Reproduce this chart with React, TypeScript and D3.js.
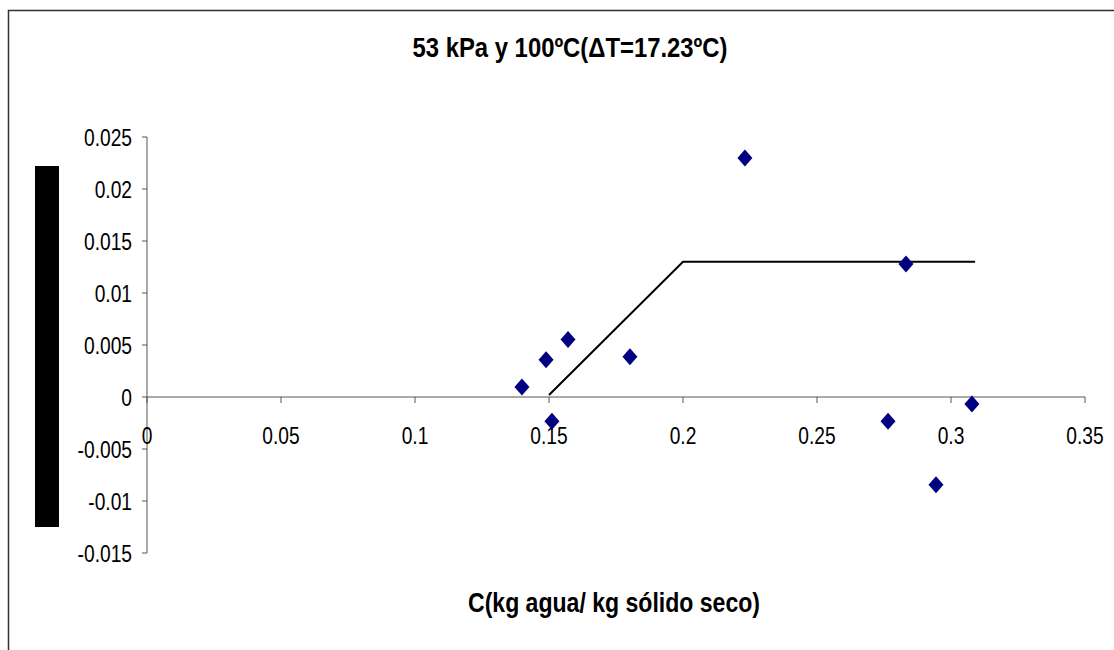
import React from "react";
import * as d3 from "d3";

const pointsX = [0.1399, 0.1489, 0.1511, 0.1571, 0.1802, 0.2231, 0.2832, 0.2765, 0.2944, 0.3078];
const pointsY = [0.00097, 0.00358, -0.00233, 0.00552, 0.00388, 0.02297, 0.01279, -0.00233, -0.00843, -0.00068];
const fitX = [0.15, 0.2, 0.309];
const fitY = [0.0002, 0.013, 0.013];
const xTicks = [0, 0.05, 0.1, 0.15, 0.2, 0.25, 0.3, 0.35];
const yTicks = [0.025, 0.02, 0.015, 0.01, 0.005, 0, -0.005, -0.01, -0.015];
const title = "53 kPa y 100ºC(ΔT=17.23ºC)";
const xTitle = "C(kg agua/ kg sólido seco)";

export default function App() {
  const x = d3.scaleLinear().domain([0, 0.35]).range([147, 1085]);
  const y = d3.scaleLinear().domain([-0.015, 0.025]).range([553, 137]);
  const line = d3
    .line<number>()
    .x((_, i) => x(fitX[i]))
    .y((d) => y(d));
  const font = "'Liberation Sans', Arial, sans-serif";
  const diamond = "M0,-8.5L7.5,0L0,8.5L-7.5,0Z";
  const sx = 0.8;
  return (
    <svg
      width={1114}
      height={650}
      style={{ position: "absolute", left: 0, top: 0, background: "#fff" }}
    >
      <rect x={8.5} y={10.5} width={1130} height={660} fill="#fff" stroke="#333" strokeWidth={1.5} />
      <text
        x={570}
        y={57}
        textAnchor="middle"
        fontFamily={font}
        fontWeight="bold"
        fontSize={28}
        textLength={315}
        lengthAdjust="spacingAndGlyphs"
      >
        {title}
      </text>
      <rect x={35} y={166} width={24} height={361} fill="#000" />
      {/* axes */}
      <line x1={x(0)} x2={x(0)} y1={y(0.025)} y2={y(-0.015)} stroke="#555" strokeWidth={1} />
      <line x1={x(0)} x2={x(0.35)} y1={y(0)} y2={y(0)} stroke="#555" strokeWidth={1} />
      {yTicks.map((t) => (
        <g key={"y" + t}>
          <line x1={x(0) - 5} x2={x(0)} y1={y(t)} y2={y(t)} stroke="#555" />
          <text
            transform={`translate(132,${y(t) + 8.5}) scale(${sx},1)`}
            textAnchor="end"
            fontFamily={font}
            fontSize={24}
          >
            {String(t)}
          </text>
        </g>
      ))}
      {xTicks.map((t) => (
        <g key={"x" + t}>
          <line x1={x(t)} x2={x(t)} y1={y(0)} y2={y(0) + 6} stroke="#555" />
          <text
            transform={`translate(${x(t)},${y(0) + 47}) scale(${sx},1)`}
            textAnchor="middle"
            fontFamily={font}
            fontSize={24}
          >
            {String(t)}
          </text>
        </g>
      ))}
      <path d={line(fitY) ?? ""} fill="none" stroke="#000" strokeWidth={2} />
      {pointsX.map((px, i) => (
        <path
          key={i}
          d={diamond}
          transform={`translate(${x(px)},${y(pointsY[i])})`}
          fill="#000080"
        />
      ))}
      <text
        x={614}
        y={612}
        textAnchor="middle"
        fontFamily={font}
        fontWeight="bold"
        fontSize={28}
        textLength={292}
        lengthAdjust="spacingAndGlyphs"
      >
        {xTitle}
      </text>
    </svg>
  );
}
